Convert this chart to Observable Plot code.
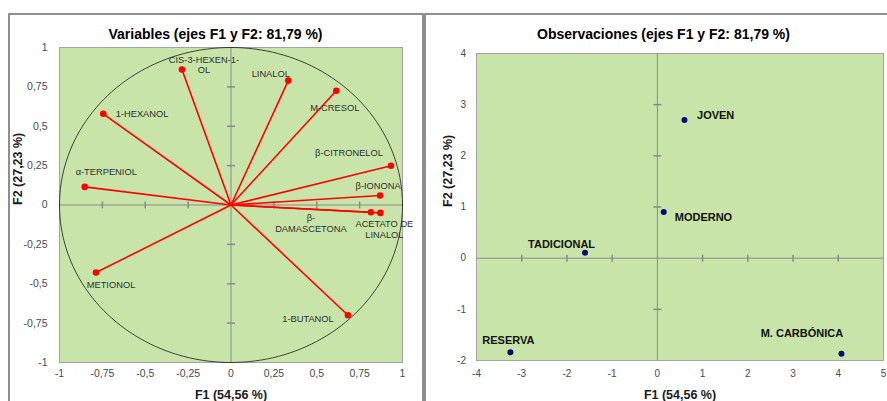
<!DOCTYPE html>
<html>
<head>
<meta charset="utf-8">
<script src="https://cdn.jsdelivr.net/npm/d3@7"></script>
<script src="https://cdn.jsdelivr.net/npm/@observablehq/plot@0.6"></script>
<style>
  body { margin: 0; background: #fff; font-family: Arial, "Liberation Sans", sans-serif; }
  #page { position: relative; width: 887px; height: 401px; overflow: hidden; }
  .frame { position: absolute; border: 2px solid #8f8f8f; box-sizing: content-box; }
  .title { position: absolute; font-weight: bold; font-size: 14px; line-height: 18px; text-align: center; color: #000; white-space: nowrap; }
  .chart { position: absolute; }
  .chart svg { overflow: visible; }
</style>
</head>
<body>
<div id="page">
  <div class="frame" style="left:8px; top:13px; width:412px; height:400px"></div>
  <div class="frame" style="left:424px; top:13px; width:480px; height:400px"></div>
  <div class="title" style="left:8px; width:415px; top:25px">Variables (ejes F1 y F2: 81,79 %)</div>
  <div class="title" style="left:425px; width:477px; top:25px">Observaciones (ejes F1 y F2: 81,79 %)</div>
  <div class="chart" id="vars" style="left:0; top:43px"></div>
  <div class="chart" id="obs" style="left:420px; top:43px"></div>
</div>
<script>
// Correlation circle: loadings of each aroma compound on F1 and F2
const variables = ["CIS-3-HEXEN-1-OL", "LINALOL", "M-CRESOL", "1-HEXANOL", "β-CITRONELOL", "β-IONONA",
                   "α-TERPENIOL", "β-DAMASCETONA", "ACETATO DE LINALOL", "METIONOL", "1-BUTANOL"];
const varF1 = [-0.286, 0.334, 0.614, -0.745, 0.933, 0.869, -0.853, 0.816, 0.871, -0.787, 0.682];
const varF2 = [0.860, 0.790, 0.725, 0.579, 0.249, 0.060, 0.115, -0.046, -0.050, -0.429, -0.700];

// Wine types projected on F1 and F2
const observations = ["JOVEN", "MODERNO", "TADICIONAL", "RESERVA", "M. CARBÓNICA"];
const obsF1 = [0.60, 0.14, -1.60, -3.25, 4.07];
const obsF2 = [2.70, 0.90, 0.105, -1.84, -1.87];

// Tick values
const varTicks = [-1, -0.75, -0.5, -0.25, 0, 0.25, 0.5, 0.75, 1];
const obsTicksX = [-4, -3, -2, -1, 0, 1, 2, 3, 4, 5];
const obsTicksY = [-2, -1, 0, 1, 2, 3, 4];

const xTitle = "F1 (54,56 %)";
const yTitle = "F2 (27,23 %)";

const GREEN = "#c8e4a8";
const AXIS = "#8a8a8a";
const fmt = d => String(d).replace(".", ",");

// short crossing tick drawn as a dot symbol
const vTick = {draw(c, s) { const r = Math.sqrt(s / Math.PI); c.moveTo(0, -r); c.lineTo(0, r); }};
const hTick = {draw(c, s) { const r = Math.sqrt(s / Math.PI); c.moveTo(-r, 0); c.lineTo(r, 0); }};

// label placement (pixel offsets from each point, optional line break)
const varLabelLayout = [
  {dx: 22, dy: -5, anchor: "middle", brk: 14},
  {dx: -17.5, dy: -7, anchor: "middle"},
  {dx: -1.5, dy: 16.5, anchor: "middle"},
  {dx: 12.5, dy: 0, anchor: "start"},
  {dx: -42, dy: -13.5, anchor: "middle"},
  {dx: -24.5, dy: -10, anchor: "start"},
  {dx: 21.5, dy: -15.5, anchor: "middle"},
  {dx: -60, dy: 10.5, anchor: "middle", brk: 2},
  {dx: 4, dy: 16, anchor: "middle", brk: 10},
  {dx: 15, dy: 12, anchor: "middle"},
  {dx: -40, dy: 3.5, anchor: "middle"}
];
const obsLabelLayout = [
  {dx: 12.5, dy: -4.5, anchor: "start"},
  {dx: 11, dy: 5, anchor: "start"},
  {dx: -23.5, dy: -8.5, anchor: "middle"},
  {dx: -2, dy: -12, anchor: "middle"},
  {dx: -39.5, dy: -20.5, anchor: "middle"}
];

const varData = variables.map((name, i) => ({name, x: varF1[i], y: varF2[i]}));
const obsData = observations.map((name, i) => ({name, x: obsF1[i], y: obsF2[i]}));

const wrap = (name, brk) => brk ? name.slice(0, brk).trim() + "\n" + name.slice(brk).trim() : name;

// unit circle outline
const circle = d3.range(0, 361, 2).map(a => ({x: Math.cos(a * Math.PI / 180), y: Math.sin(a * Math.PI / 180)}));

const baseStyle = {fontFamily: "Arial, 'Liberation Sans', sans-serif", fontSize: "10.5px", color: "#4a4a4a", background: "transparent", overflow: "visible"};

const varLabels = varData.map((d, i) => {
  const L = varLabelLayout[i];
  return Plot.text([d], {x: "x", y: "y", text: d => wrap(d.name, L.brk), dx: L.dx, dy: L.dy,
    textAnchor: L.anchor, lineAnchor: "middle", lineHeight: 1.15, fontSize: 9.3, fill: "#2e2e2e"});
});

const left = Plot.plot({
  width: 420, height: 358,
  marginLeft: 59, marginRight: 18, marginTop: 4, marginBottom: 39,
  x: {domain: [-1, 1]},
  y: {domain: [-1, 1]},
  style: baseStyle,
  marks: [
    Plot.frame({fill: GREEN, stroke: "#a3a3a3"}),
    Plot.ruleX([0], {stroke: AXIS}),
    Plot.ruleY([0], {stroke: AXIS}),
    Plot.dot(varTicks.filter(t => t !== 0 && Math.abs(t) !== 1), {x: d => d, y: 0, symbol: vTick, r: 3.5, stroke: AXIS, fill: "none"}),
    Plot.dot(varTicks.filter(t => t !== 0 && Math.abs(t) !== 1), {x: 0, y: d => d, symbol: hTick, r: 4, stroke: AXIS, fill: "none"}),
    Plot.line(circle, {x: "x", y: "y", stroke: "#1a1a1a", strokeWidth: 0.8}),
    Plot.link(varData, {x1: 0, y1: 0, x2: "x", y2: "y", stroke: "#ff0000", strokeWidth: 1.6}),
    Plot.dot(varData, {x: "x", y: "y", r: 3.3, fill: "#ff0000"}),
    ...varLabels,
    Plot.axisX({ticks: varTicks, tickSize: 0, tickPadding: 7, tickFormat: fmt, label: null}),
    Plot.axisY({ticks: varTicks, tickSize: 0, tickPadding: 12, tickFormat: fmt, label: null}),
    Plot.text([xTitle], {frameAnchor: "bottom", lineAnchor: "bottom", dy: 36, fontWeight: "bold", fontSize: 12.5, fill: "#1a1a1a"}),
    Plot.text([yTitle], {frameAnchor: "left", lineAnchor: "top", rotate: -90, dx: -46, fontWeight: "bold", fontSize: 12.5, fill: "#1a1a1a"})
  ]
});
document.getElementById("vars").append(left);

const obsLabels = obsData.map((d, i) => {
  const L = obsLabelLayout[i];
  return Plot.text([d], {x: "x", y: "y", text: "name", dx: L.dx, dy: L.dy,
    textAnchor: L.anchor, lineAnchor: "middle", fontSize: 11, fontWeight: "bold", fill: "#111"});
});

const right = Plot.plot({
  width: 467, height: 358,
  marginLeft: 56, marginRight: 4, marginTop: 10, marginBottom: 41,
  x: {domain: [-4, 5]},
  y: {domain: [-2, 4]},
  style: {...baseStyle, fontSize: "10px"},
  marks: [
    Plot.frame({fill: GREEN, stroke: "#a3a3a3"}),
    Plot.ruleX([0], {stroke: AXIS}),
    Plot.ruleY([0], {stroke: AXIS}),
    Plot.dot(obsTicksX.filter(t => t !== 0 && t !== -4 && t !== 5), {x: d => d, y: 0, symbol: vTick, r: 3.5, stroke: AXIS, fill: "none"}),
    Plot.dot(obsTicksY.filter(t => t !== 0 && t !== -2 && t !== 4), {x: 0, y: d => d, symbol: hTick, r: 4, stroke: AXIS, fill: "none"}),
    Plot.dot(obsData, {x: "x", y: "y", r: 3, fill: "#0a0a78"}),
    ...obsLabels,
    Plot.axisX({ticks: obsTicksX, tickSize: 0, tickPadding: 9, tickFormat: fmt, label: null}),
    Plot.axisY({ticks: obsTicksY, tickSize: 0, tickPadding: 10.5, tickFormat: fmt, label: null}),
    Plot.text([xTitle], {frameAnchor: "bottom", lineAnchor: "bottom", dy: 38, fontWeight: "bold", fontSize: 12.5, fill: "#1a1a1a"}),
    Plot.text([yTitle], {frameAnchor: "left", lineAnchor: "top", rotate: -90, dx: -33, fontWeight: "bold", fontSize: 12.5, fill: "#1a1a1a"})
  ]
});
document.getElementById("obs").append(right);
</script>
</body>
</html>
